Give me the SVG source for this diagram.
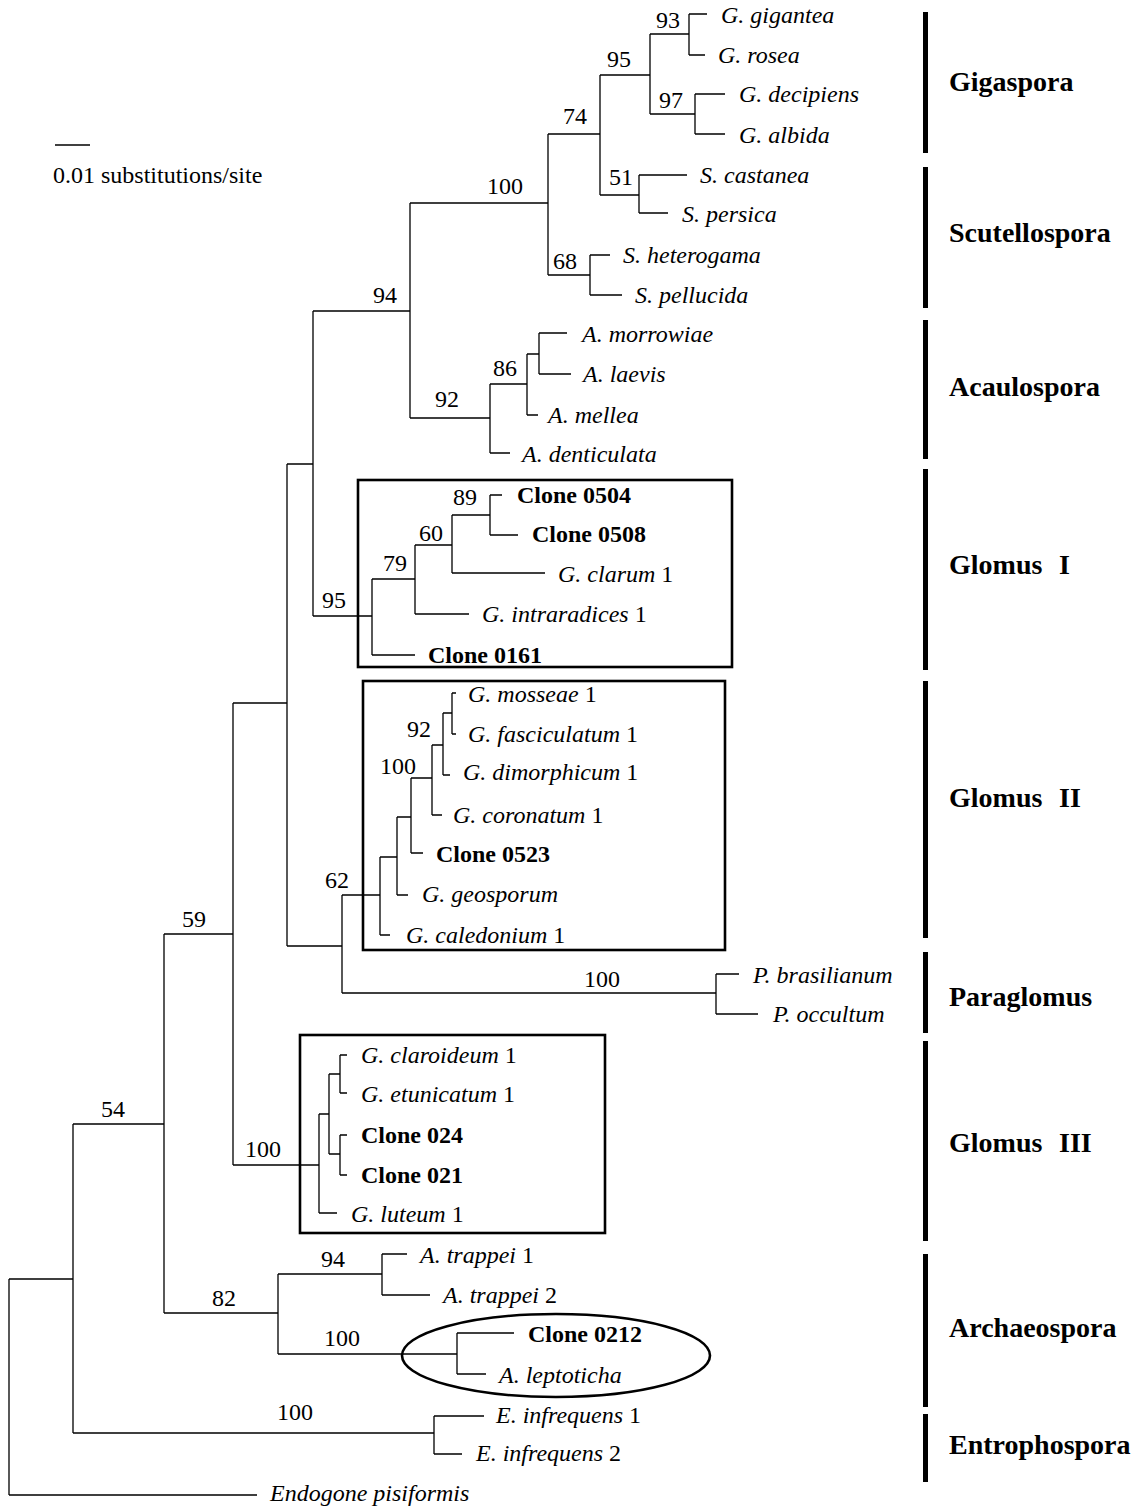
<svg xmlns="http://www.w3.org/2000/svg" width="1136" height="1508" viewBox="0 0 1136 1508">
<style>
text{font-family:"Liberation Serif","Times New Roman",serif;fill:#000}
.sp{font-size:24px;font-style:italic}
.n{font-style:normal}
.cl{font-size:24px;font-weight:bold}
.bs{font-size:24px}
.bsm{font-size:24px;text-anchor:middle}
.grp{font-size:28px;font-weight:bold}
.tree{fill:none;stroke:#000;stroke-width:1.3}
.box{fill:none;stroke:#000;stroke-width:2.6}
.bar{fill:#000}
</style>
<rect width="1136" height="1508" fill="#fff"/>

<g id="scale">
<line x1="55" y1="145" x2="90" y2="145" stroke="#000" stroke-width="1.3"/>
<text class="bs" x="53" y="183">0.01 substitutions/site</text>
</g>

<g id="connectors" class="tree">
<path d="M9 1279V1495M9 1279H73M9 1495H257"/>
<path d="M73 1124V1433M73 1124H164M73 1433H434"/>
<path d="M434 1416V1454M434 1416H484M434 1454H462"/>
<path d="M164 934V1313M164 934H233M164 1313H278"/>
<path d="M278 1274V1354M278 1274H382M278 1354H457"/>
<path d="M382 1254V1295M382 1254H407M382 1295H430"/>
<path d="M457 1333V1374M457 1333H514M457 1374H486"/>
<path d="M233 703V1165M233 703H287M233 1165H319"/>
<path d="M319 1114V1213M319 1114H329M319 1213H337"/>
<path d="M329 1074V1154M329 1074H340M329 1154H340"/>
<path d="M340 1055V1093M340 1055H347M340 1093H347"/>
<path d="M340 1135V1175M340 1135H347M340 1175H347"/>
<path d="M287 464V946M287 464H313M287 946H342"/>
<path d="M342 895V993M342 993H716M342 895H380"/>
<path d="M716 974V1014M716 974H739M716 1014H758"/>
<path d="M380 857V935M380 935H390M380 857H397"/>
<path d="M397 817V895M397 895H408M397 817H411"/>
<path d="M411 778V853M411 853H423M411 778H432"/>
<path d="M432 745V815M432 815H442M432 745H443"/>
<path d="M443 713V775M443 775H450M443 713H452"/>
<path d="M452 693V734M452 693H456M452 734H456"/>
<path d="M313 311V616M313 311H410M313 616H372"/>
<path d="M372 579V655M372 655H415M372 579H415"/>
<path d="M415 545V614M415 614H469M415 545H452"/>
<path d="M452 515V573M452 573H545M452 515H490"/>
<path d="M490 495V535M490 495H502M490 535H518"/>
<path d="M410 203V418M410 203H548M410 418H490"/>
<path d="M490 384V453M490 453H510M490 384H527"/>
<path d="M527 354V415M527 415H538M527 354H539"/>
<path d="M539 333V374M539 333H567M539 374H571"/>
<path d="M548 134V275M548 134H600M548 275H590"/>
<path d="M600 75V195M600 75H650M600 195H639"/>
<path d="M650 34V114M650 34H689M650 114H695"/>
<path d="M689 14V55M689 14H707M689 55H705"/>
<path d="M695 94V134M695 94H725M695 134H725"/>
<path d="M639 175V213M639 175H687M639 213H668"/>
<path d="M590 255V295M590 255H610M590 295H622"/>
</g>

<g id="bootstrap">
<text class="bs" x="656" y="28">93</text>
<text class="bs" x="607" y="67">95</text>
<text class="bs" x="659" y="108">97</text>
<text class="bs" x="563" y="124">74</text>
<text class="bs" x="609" y="185">51</text>
<text class="bs" x="487" y="194">100</text>
<text class="bs" x="553" y="269">68</text>
<text class="bs" x="373" y="303">94</text>
<text class="bs" x="493" y="376">86</text>
<text class="bs" x="435" y="407">92</text>
<text class="bs" x="453" y="505">89</text>
<text class="bs" x="419" y="541">60</text>
<text class="bs" x="383" y="571">79</text>
<text class="bs" x="322" y="608">95</text>
<text class="bs" x="407" y="737">92</text>
<text class="bs" x="380" y="774">100</text>
<text class="bs" x="325" y="888">62</text>
<text class="bs" x="584" y="987">100</text>
<text class="bsm" x="194" y="927">59</text>
<text class="bsm" x="113" y="1117">54</text>
<text class="bsm" x="263" y="1157">100</text>
<text class="bsm" x="333" y="1267">94</text>
<text class="bsm" x="224" y="1306">82</text>
<text class="bsm" x="342" y="1346">100</text>
<text class="bsm" x="295" y="1420">100</text>
</g>

<g id="taxa">
<g id="t-gigantea"><text class="sp" x="721" y="23">G. gigantea</text></g>
<g id="t-rosea"><text class="sp" x="718" y="63">G. rosea</text></g>
<g id="t-decipiens"><text class="sp" x="739" y="102">G. decipiens</text></g>
<g id="t-albida"><text class="sp" x="739" y="143">G. albida</text></g>
<g id="t-castanea"><text class="sp" x="700" y="183">S. castanea</text></g>
<g id="t-persica"><text class="sp" x="682" y="222">S. persica</text></g>
<g id="t-heterogama"><text class="sp" x="623" y="263">S. heterogama</text></g>
<g id="t-pellucida"><text class="sp" x="635" y="303">S. pellucida</text></g>
<g id="t-morrowiae"><text class="sp" x="582" y="342">A. morrowiae</text></g>
<g id="t-laevis"><text class="sp" x="583" y="382">A. laevis</text></g>
<g id="t-mellea"><text class="sp" x="548" y="423">A. mellea</text></g>
<g id="t-denticulata"><text class="sp" x="522" y="462">A. denticulata</text></g>
<g id="t-c0504"><text class="cl" x="517" y="503">Clone 0504</text></g>
<g id="t-c0508"><text class="cl" x="532" y="542">Clone 0508</text></g>
<g id="t-clarum"><text class="sp" x="558" y="582">G. clarum<tspan class="n"> 1</tspan></text></g>
<g id="t-intraradices"><text class="sp" x="482" y="622">G. intraradices<tspan class="n"> 1</tspan></text></g>
<g id="t-c0161"><text class="cl" x="428" y="663">Clone 0161</text></g>
<g id="t-mosseae"><text class="sp" x="468" y="702">G. mosseae<tspan class="n"> 1</tspan></text></g>
<g id="t-fasciculatum"><text class="sp" x="468" y="742">G. fasciculatum<tspan class="n"> 1</tspan></text></g>
<g id="t-dimorphicum"><text class="sp" x="463" y="780">G. dimorphicum<tspan class="n"> 1</tspan></text></g>
<g id="t-coronatum"><text class="sp" x="453" y="823">G. coronatum<tspan class="n"> 1</tspan></text></g>
<g id="t-c0523"><text class="cl" x="436" y="862">Clone 0523</text></g>
<g id="t-geosporum"><text class="sp" x="422" y="902">G. geosporum</text></g>
<g id="t-caledonium"><text class="sp" x="406" y="943">G. caledonium<tspan class="n"> 1</tspan></text></g>
<g id="t-brasilianum"><text class="sp" x="753" y="983">P. brasilianum</text></g>
<g id="t-occultum"><text class="sp" x="773" y="1022">P. occultum</text></g>
<g id="t-claroideum"><text class="sp" x="361" y="1063">G. claroideum<tspan class="n"> 1</tspan></text></g>
<g id="t-etunicatum"><text class="sp" x="361" y="1102">G. etunicatum<tspan class="n"> 1</tspan></text></g>
<g id="t-c024"><text class="cl" x="361" y="1143">Clone 024</text></g>
<g id="t-c021"><text class="cl" x="361" y="1183">Clone 021</text></g>
<g id="t-luteum"><text class="sp" x="351" y="1222">G. luteum<tspan class="n"> 1</tspan></text></g>
<g id="t-trappei1"><text class="sp" x="420" y="1263">A. trappei<tspan class="n"> 1</tspan></text></g>
<g id="t-trappei2"><text class="sp" x="443" y="1303">A. trappei<tspan class="n"> 2</tspan></text></g>
<g id="t-c0212"><text class="cl" x="528" y="1342">Clone 0212</text></g>
<g id="t-leptoticha"><text class="sp" x="499" y="1383">A. leptoticha</text></g>
<g id="t-infrequens1"><text class="sp" x="496" y="1423">E. infrequens<tspan class="n"> 1</tspan></text></g>
<g id="t-infrequens2"><text class="sp" x="476" y="1461">E. infrequens<tspan class="n"> 2</tspan></text></g>
<g id="t-endogone"><text class="sp" x="270" y="1501">Endogone pisiformis</text></g>
</g>

<g id="highlights">
<rect id="box-glomus1" class="box" x="358" y="480" width="374" height="187"/>
<rect id="box-glomus2" class="box" x="363" y="681" width="362" height="269"/>
<rect id="box-glomus3" class="box" x="300" y="1035" width="305" height="198"/>
<ellipse id="ell-archaeo" class="box" cx="556" cy="1355.5" rx="154" ry="41.5"/>
</g>

<g id="groups">
<g id="g-gigaspora"><rect class="bar" x="923" y="12" width="5" height="141"/><text class="grp" x="949" y="91">Gigaspora</text></g>
<g id="g-scutellospora"><rect class="bar" x="923" y="167" width="5" height="141"/><text class="grp" x="949" y="242">Scutellospora</text></g>
<g id="g-acaulospora"><rect class="bar" x="923" y="320" width="5" height="139"/><text class="grp" x="949" y="396">Acaulospora</text></g>
<g id="g-glomus1"><rect class="bar" x="923" y="469" width="5" height="201"/><text class="grp" x="949" y="574">Glomus<tspan x="1059">I</tspan></text></g>
<g id="g-glomus2"><rect class="bar" x="923" y="681" width="5" height="257"/><text class="grp" x="949" y="807">Glomus<tspan x="1059">II</tspan></text></g>
<g id="g-paraglomus"><rect class="bar" x="923" y="952" width="5" height="81"/><text class="grp" x="949" y="1006">Paraglomus</text></g>
<g id="g-glomus3"><rect class="bar" x="923" y="1041" width="5" height="200"/><text class="grp" x="949" y="1152">Glomus<tspan x="1059">III</tspan></text></g>
<g id="g-archaeospora"><rect class="bar" x="923" y="1254" width="5" height="153"/><text class="grp" x="949" y="1337">Archaeospora</text></g>
<g id="g-entrophospora"><rect class="bar" x="923" y="1414" width="5" height="68"/><text class="grp" x="949" y="1454">Entrophospora</text></g>
</g>
</svg>
